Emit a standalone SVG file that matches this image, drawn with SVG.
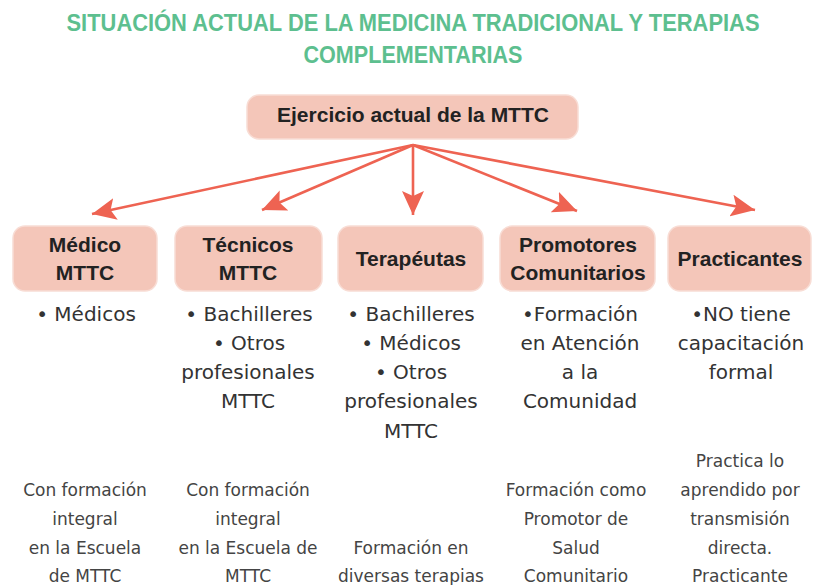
<svg xmlns="http://www.w3.org/2000/svg" width="816" height="585" viewBox="0 0 816 585">
<style>
.title{font-family:"Liberation Sans",Arial,sans-serif;font-weight:bold;font-size:23px;fill:#5dbf8f;text-anchor:middle}
.box{fill:#f4c6b9;stroke:#f8ddd5;stroke-width:1.5}
.lbl{font-family:"Liberation Sans",Arial,sans-serif;font-weight:bold;font-size:21px;fill:#222;text-anchor:middle}
.bul{font-family:"DejaVu Sans","Liberation Sans",sans-serif;font-size:20px;fill:#333;text-anchor:middle}
.note{font-family:"DejaVu Sans","Liberation Sans",sans-serif;font-size:17px;fill:#444;text-anchor:middle}
.arr{stroke:#ee6352;stroke-width:2.6;fill:none;marker-end:url(#ah)}
</style>
<defs>
<marker id="ah" markerUnits="userSpaceOnUse" markerWidth="26" markerHeight="22" refX="24" refY="11" orient="auto">
<path d="M0,0 L24,11 L0,22 L5,11 Z" fill="#ee6352"/>
</marker>
</defs>
<rect width="816" height="585" fill="#fff"/>
<g id="title">
<text class="title" x="413" y="31" textLength="693" lengthAdjust="spacingAndGlyphs">SITUACIÓN ACTUAL DE LA MEDICINA TRADICIONAL Y TERAPIAS</text>
<text class="title" x="413" y="63" textLength="219" lengthAdjust="spacingAndGlyphs">COMPLEMENTARIAS</text>
</g>
<g id="connectors">
<line class="arr" x1="413" y1="145" x2="92" y2="214"/>
<line class="arr" x1="413" y1="145" x2="262" y2="210"/>
<line class="arr" x1="413" y1="145" x2="413" y2="215"/>
<line class="arr" x1="413" y1="145" x2="577" y2="211"/>
<line class="arr" x1="413" y1="145" x2="755" y2="210"/>
</g>
<g id="root">
<rect class="box" x="247" y="95" width="331" height="44" rx="12"/>
<text class="lbl" x="413" y="122">Ejercicio actual de la MTTC</text>
</g>
<g id="medico">
<rect class="box" x="13" y="226" width="144" height="65" rx="12"/>
<text class="lbl" x="85" y="252">Médico</text>
<text class="lbl" x="85" y="280">MTTC</text>
<text class="bul" x="86" y="321">• Médicos</text>
<text class="note" x="85" y="496">Con formación</text>
<text class="note" x="85" y="525">integral</text>
<text class="note" x="85" y="554">en la Escuela</text>
<text class="note" x="85" y="582">de MTTC</text>
</g>
<g id="tecnicos">
<rect class="box" x="175" y="226" width="147" height="65" rx="12"/>
<text class="lbl" x="248" y="252">Técnicos</text>
<text class="lbl" x="248" y="280">MTTC</text>
<text class="bul" x="249" y="321">• Bachilleres</text>
<text class="bul" x="249" y="350">• Otros</text>
<text class="bul" x="248" y="379">profesionales</text>
<text class="bul" x="248" y="408">MTTC</text>
<text class="note" x="248" y="496">Con formación</text>
<text class="note" x="248" y="525">integral</text>
<text class="note" x="248" y="554">en la Escuela de</text>
<text class="note" x="248" y="582">MTTC</text>
</g>
<g id="terapeutas">
<rect class="box" x="338" y="226" width="145" height="65" rx="12"/>
<text class="lbl" x="411" y="266">Terapéutas</text>
<text class="bul" x="411" y="321">• Bachilleres</text>
<text class="bul" x="411" y="350">• Médicos</text>
<text class="bul" x="411" y="379">• Otros</text>
<text class="bul" x="411" y="408">profesionales</text>
<text class="bul" x="411" y="438">MTTC</text>
<text class="note" x="411" y="554">Formación en</text>
<text class="note" x="411" y="582">diversas terapias</text>
</g>
<g id="promotores">
<rect class="box" x="500" y="226" width="155" height="65" rx="12"/>
<text class="lbl" x="578" y="252">Promotores</text>
<text class="lbl" x="578" y="280">Comunitarios</text>
<text class="bul" x="580" y="321">•Formación</text>
<text class="bul" x="580" y="350">en Atención</text>
<text class="bul" x="580" y="379">a la</text>
<text class="bul" x="580" y="408">Comunidad</text>
<text class="note" x="576" y="496">Formación como</text>
<text class="note" x="576" y="525">Promotor de</text>
<text class="note" x="576" y="554">Salud</text>
<text class="note" x="576" y="582">Comunitario</text>
</g>
<g id="practicantes">
<rect class="box" x="668" y="226" width="143" height="65" rx="12"/>
<text class="lbl" x="740" y="266">Practicantes</text>
<text class="bul" x="741" y="321">•NO tiene</text>
<text class="bul" x="741" y="350">capacitación</text>
<text class="bul" x="741" y="379">formal</text>
<text class="note" x="740" y="467">Practica lo</text>
<text class="note" x="740" y="496">aprendido por</text>
<text class="note" x="740" y="525">transmisión</text>
<text class="note" x="740" y="554">directa.</text>
<text class="note" x="740" y="582">Practicante</text>
</g>
</svg>
